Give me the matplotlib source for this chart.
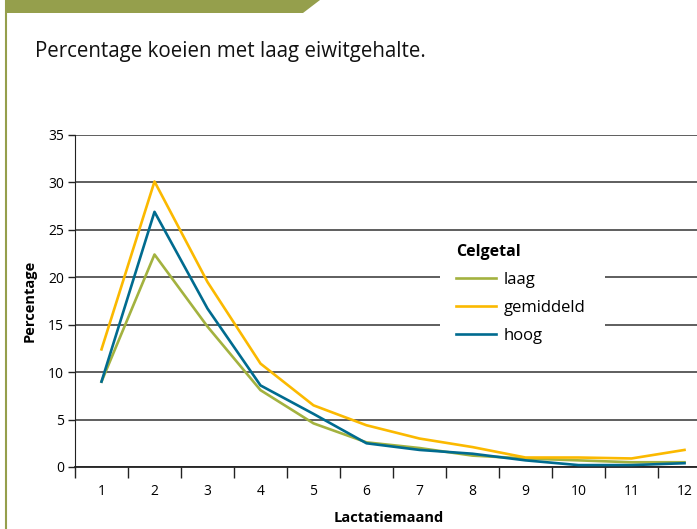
import matplotlib.pyplot as plt
from matplotlib.patches import Polygon, Rectangle
from matplotlib.lines import Line2D

# =========================
# Data
# =========================
months = [1, 2, 3, 4, 5, 6, 7, 8, 9, 10, 11, 12]
month_labels = [str(m) for m in months]
laag = [9.0, 22.4, 14.8, 8.1, 4.6, 2.6, 2.0, 1.2, 0.9, 0.7, 0.5, 0.5]
gemiddeld = [12.4, 30.1, 19.5, 10.9, 6.5, 4.4, 3.0, 2.1, 1.0, 1.0, 0.9, 1.8]
hoog = [9.0, 26.9, 16.7, 8.6, 5.6, 2.5, 1.8, 1.4, 0.7, 0.2, 0.2, 0.4]
yticks = [0, 5, 10, 15, 20, 25, 30, 35]

green = "#a3b23f"
yellow = "#fbb900"
blue = "#006b8f"
olive = "#959f4c"

# =========================
# Figure + decorations
# =========================
fig = plt.figure(figsize=(6.97, 5.29), dpi=100)
W, H = 697, 529

# header bar with slanted right edge
header = Polygon([(5 / W, 1), (320 / W, 1), (303 / W, 1 - 13 / H), (5 / W, 1 - 13 / H)],
                 closed=True, transform=fig.transFigure, facecolor=olive, edgecolor="none")
fig.patches.append(header)
# left border line
fig.lines.append(Line2D([5.5 / W, 5.5 / W], [0, 1], transform=fig.transFigure,
                        color=olive, lw=1.5))

fig.text(35 / W, 1 - 51 / H, "Percentage koeien met laag eiwitgehalte.",
         fontsize=14.8, family="Open Sans", va="center", ha="left", color="#111111")

# =========================
# Chart
# =========================
ax = fig.add_axes([75 / W, 62 / H, 636 / W, 332 / H])
ax.plot(months, laag, color=green, lw=1.9, label="laag", zorder=3)
ax.plot(months, gemiddeld, color=yellow, lw=1.9, label="gemiddeld", zorder=3)
ax.plot(months, hoog, color=blue, lw=1.9, label="hoog", zorder=3)

ax.set_xlim(0.5, 12.5)
ax.set_ylim(0, 35)
ax.set_yticks(yticks)
ax.set_yticklabels([str(v) for v in yticks], family="Open Sans", fontsize=10)
ax.yaxis.grid(True, color="#333333", lw=1.1)
ax.set_axisbelow(True)

# tick marks at category boundaries, labels at centres
ax.set_xticks([m + 0.5 for m in [0] + months])
ax.set_xticklabels([])
ax.set_xticks(months, minor=True)
ax.set_xticklabels(month_labels, minor=True, family="Open Sans", fontsize=10)
ax.tick_params(axis="x", which="major", length=8, width=1, direction="out", color="#222222")
ax.tick_params(axis="x", which="minor", length=0, pad=12)
ax.tick_params(axis="y", length=5, width=1, color="#222222", pad=3)

for side in ["top", "right"]:
    ax.spines[side].set_visible(False)
ax.spines["left"].set_color("#222222")
ax.spines["bottom"].set_color("#222222")
ax.spines["bottom"].set_linewidth(1.3)

ax.set_ylabel("Percentage", fontsize=10.5, fontweight="bold", family="Open Sans", labelpad=8)
fig.text(389 / W, 1 - 518 / H, "Lactatiemaand", fontsize=10.5, fontweight="bold",
         family="Open Sans", ha="center", va="center")

# white box behind the legend (hides the gridlines)
ax.add_patch(Rectangle((440 / W, 1 - 352 / H), 165 / W, 117 / H, transform=fig.transFigure,
                       facecolor="white", edgecolor="none", zorder=2))

leg = ax.legend(loc="upper left", bbox_to_anchor=(440 / W, 1 - 228 / H),
                bbox_transform=fig.transFigure, title="Celgetal", frameon=False,
                prop={"family": "Open Sans", "size": 12}, handlelength=2.4,
                handletextpad=0.45, labelspacing=0.72, borderpad=0.45, alignment="left",
                title_fontproperties={"family": "Open Sans", "size": 11.5, "weight": "bold"})
leg.set_zorder(5)

plt.savefig("out.png", dpi=100)
